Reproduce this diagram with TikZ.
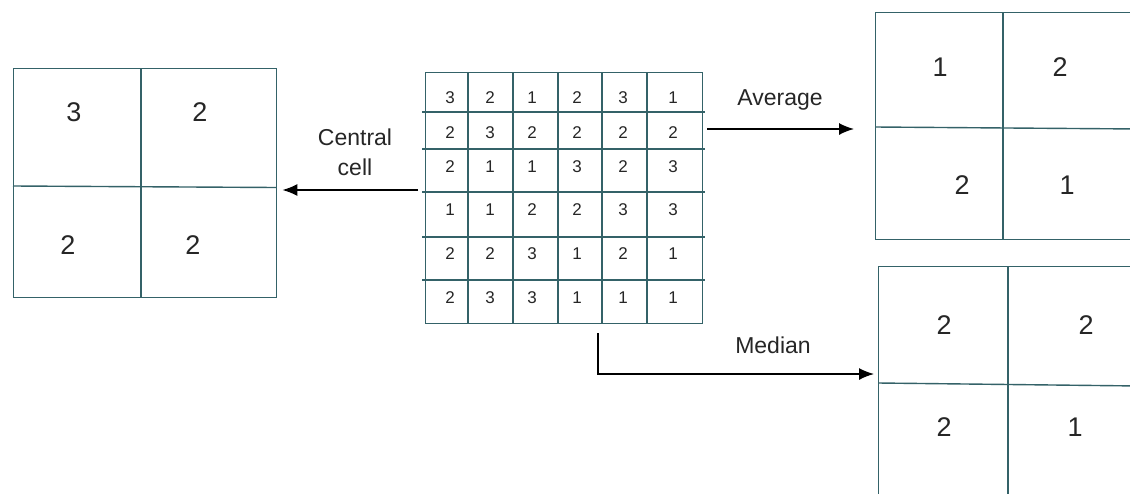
\documentclass[tikz,border=0pt]{standalone}
\usepackage{fontspec}
\setmainfont{Liberation Sans}
\usetikzlibrary{arrows.meta}
\definecolor{gridc}{RGB}{52,98,104}
\begin{document}
\begin{tikzpicture}[x=1pt,y=-1pt,
  gridline/.style={draw=gridc, line width=1.4pt},
  box/.style={gridline, rectangle, inner sep=0pt, anchor=north west},
  big/.style={font=\fontsize{27}{29}\selectfont, text=black!85, inner sep=1pt},
  small/.style={font=\fontsize{17}{19}\selectfont, text=black!85, inner sep=1pt},
  lbl/.style={font=\fontsize{23}{30}\selectfont, align=center, text=black!85},
  conn/.style={draw=black, line width=1.4pt, -{Latex[length=15pt,width=12pt]}}
]
\useasboundingbox (0,0) rectangle (1130,493);
\fill[white] (0,0) rectangle (1130,493);
\clip (0,0) rectangle (1130,493);

% left grid (central cell)
\node[box, minimum width=263pt, minimum height=229pt] (L) at (13,68) {};
\draw[gridline] (141,68) -- (141,297);
\draw[gridline] (13,186) -- (276,187.5);
\node[big] (l11) at (74,112) {3};
\node[big] (l12) at (200,112) {2};
\node[big] (l21) at (68,245) {2};
\node[big] (l22) at (193,245) {2};

% central 6x6 grid
\node[box, minimum width=277pt, minimum height=251pt] (C) at (425,72) {};
\foreach \x in {468,513,558,602,647} \draw[gridline] (\x,72) -- (\x,323);
\foreach \y in {112,149,192,237,280} \draw[gridline] (422,\y) -- (705,\y);
\foreach \vals [count=\r] in {{3,2,1,2,3,1},{2,3,2,2,2,2},{2,1,1,3,2,3},{1,1,2,2,3,3},{2,2,3,1,2,1},{2,3,3,1,1,1}}{
  \pgfmathsetmacro{\yy}{{98,133,167,210,254,298}[\r-1]}
  \foreach \v [count=\c] in \vals {
    \pgfmathsetmacro{\xx}{{450,490,532,577,623,673}[\c-1]}
    \node[small] (n-\r-\c) at (\xx,\yy) {\v};
  }
}

% top-right grid (average)
\node[box, minimum width=300pt, minimum height=227pt] (TR) at (875,12) {};
\draw[gridline] (1003,12) -- (1003,239);
\draw[gridline] (875,127) -- (1140,129);
\node[big] (a11) at (940,67) {1};
\node[big] (a12) at (1060,67) {2};
\node[big] (a21) at (962,185) {2};
\node[big] (a22) at (1067,185) {1};

% bottom-right grid (median)
\node[box, minimum width=300pt, minimum height=260pt] (BR) at (878,266) {};
\draw[gridline] (1008,266) -- (1008,500);
\draw[gridline] (878,383) -- (1140,386);
\node[big] (m11) at (944,325) {2};
\node[big] (m12) at (1086,325) {2};
\node[big] (m21) at (944,427) {2};
\node[big] (m22) at (1075,427) {1};

% labels
\node[lbl] (lc) at (355,152) {Central\\cell};
\node[lbl] (la) at (780,100) {Average};
\node[lbl] (lm) at (773,345) {Median};

% connectors
\coordinate (cs) at (418,190);
\draw[conn, shorten >=5pt] (cs) -- (cs -| L.east);
\coordinate (as) at (707,129);
\draw[conn, shorten >=21pt] (as) -- (as -| TR.west);
\coordinate (ms) at (598,333);
\coordinate (mc) at (598,374);
\draw[conn, shorten >=4pt] (ms) -- (mc) -- (mc -| BR.west);
\end{tikzpicture}
\end{document}
